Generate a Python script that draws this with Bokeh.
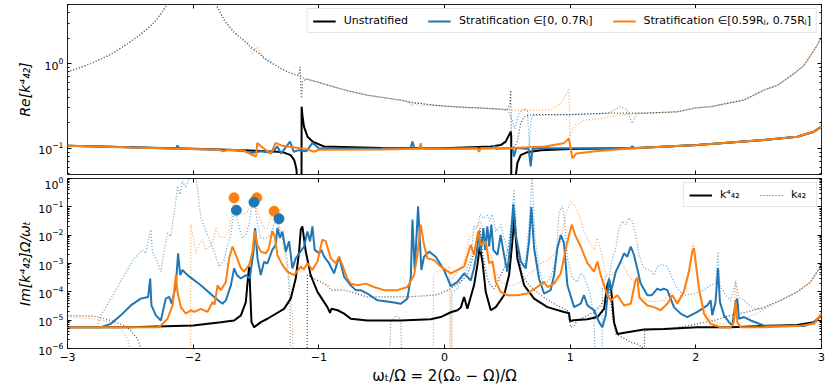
import numpy as np
from bokeh.plotting import figure
from bokeh.models import Range1d, LogAxis, LinearAxis, Legend, LegendItem, FixedTicker, CustomJSTickFormatter
from bokeh.layouts import column
from bokeh.embed import file_html
from bokeh.resources import INLINE

FONT = "DejaVu Sans"
BLUE = "#1f77b4"
ORANGE = "#ff7f0e"
BLACK = "#000000"

# ---------------- top panel: Re[k42^4] (solid) and Re[k42] (dotted), linear values ----------------
re_unstrat = [(-3.0,0.107),(-2.5,0.103),(-2.0,0.099),(-1.6,0.095),(-1.409,0.092),(-1.33,0.091),(-1.277,0.089),
    (-1.224,0.083),(-1.197,0.073),(-1.185,0.063),(-1.178,0.056),(-1.172,0.04),(-1.17,1e-4),(-1.14,1e-4),
    (-1.137,0.31),(-1.13,0.24),(-1.118,0.18),(-1.09,0.137),(-1.05,0.12),(-0.959,0.105),(-0.5,0.101),(0.0,0.1),
    (0.368,0.105),(0.447,0.109),(0.487,0.12),(0.513,0.143),(0.527,0.157),(0.531,0.14),(0.533,1e-4),(0.566,1e-4),
    (0.569,0.05),(0.58,0.067),(0.606,0.083),(0.66,0.09),(0.766,0.095),(1.0,0.098),(1.48,0.1),(2.01,0.109),
    (2.54,0.125),(2.807,0.137),(2.94,0.157),(3.0,0.18)]
re_strat1 = [(-3.0,0.107),(-2.5,0.103),(-2.14,0.099),(-2.125,0.108),(-2.11,0.099),(-1.8,0.096),(-1.7,0.095),
    (-1.6,0.093),(-1.54,0.088),(-1.46,0.092),(-1.41,0.09),(-1.38,0.087),(-1.33,0.105),(-1.30,0.087),(-1.229,0.12),
    (-1.20,0.091),(-1.16,0.095),(-1.10,0.092),(-1.05,0.116),(-1.0,0.1),(-0.5,0.099),(-0.27,0.1),(-0.255,0.12),
    (-0.24,0.1),(0.0,0.099),(0.38,0.1),(0.394,0.108),(0.41,0.099),(0.50,0.1),(0.54,0.1),(0.553,0.08),(0.57,0.1),
    (0.60,0.1),(0.67,0.098),(0.686,0.061),(0.70,0.098),(0.75,0.1),(1.0,0.1),(1.48,0.101),(1.495,0.106),(1.51,0.1),
    (2.01,0.109),(2.54,0.125),(2.807,0.137),(2.94,0.157),(3.0,0.18)]
re_strat2 = [(-3.0,0.107),(-2.5,0.102),(-2.0,0.098),(-1.8,0.096),(-1.76,0.092),(-1.72,0.096),(-1.6,0.094),
    (-1.56,0.088),(-1.50,0.08),(-1.49,0.115),(-1.42,0.095),(-1.383,0.087),(-1.343,0.116),(-1.30,0.108),(-1.25,0.105),
    (-1.10,0.098),(-1.04,0.091),(-1.0,0.096),(-0.5,0.097),(-0.2,0.099),(-0.19,0.115),(-0.18,0.1),(0.0,0.099),
    (0.26,0.1),(0.274,0.091),(0.29,0.1),(0.5,0.1),(0.8,0.105),(0.95,0.115),(0.99,0.131),(1.018,0.076),(1.05,0.087),
    (1.2,0.092),(1.5,0.1),(2.01,0.109),(2.54,0.125),(2.807,0.137),(2.94,0.157),(3.0,0.18)]

re_k_unstrat = [(-3.0,0.80),(-2.9,0.90),(-2.788,1.04),(-2.65,1.30),(-2.523,1.72),(-2.44,2.10),(-2.364,2.58),
    (-2.30,3.20),(-2.258,3.87),(-2.204,5.08),(-2.10,12.0),(-1.90,12.0),(-1.82,5.08),(-1.75,3.20),(-1.675,2.35),
    (-1.60,1.90),(-1.542,1.57),(-1.47,1.30),(-1.409,1.09),(-1.34,0.95),(-1.277,0.834),(-1.20,0.75),(-1.16,0.73),
    (-1.149,0.91),(-1.143,0.50),(-1.138,0.39),(-1.13,0.62),(-1.10,0.66),(-1.0,0.60),(-0.879,0.53),(-0.75,0.47),
    (-0.613,0.424),(-0.45,0.39),(-0.349,0.37),(-0.245,0.345),(-0.10,0.325),(0.0,0.315),(0.15,0.305),(0.262,0.30),
    (0.40,0.293),(0.50,0.285),(0.52,0.33),(0.527,0.485),(0.533,0.105),(0.56,0.105),(0.58,0.12),(0.606,0.197),
    (0.633,0.236),(0.70,0.25),(1.0,0.25),(1.32,0.26),(1.60,0.26),(1.85,0.27),(2.0,0.30),(2.12,0.31),(2.25,0.34),
    (2.38,0.37),(2.54,0.485),(2.65,0.556),(2.78,0.76),(2.86,0.95),(2.913,1.25),(2.96,1.6),(3.0,2.06)]
re_k_strat1 = [(-3.0,0.80),(-2.9,0.90),(-2.788,1.04),(-2.65,1.30),(-2.523,1.72),(-2.44,2.10),(-2.364,2.58),
    (-2.30,3.20),(-2.258,3.87),(-2.204,5.08),(-2.10,12.0),(-1.90,12.0),(-1.82,5.08),(-1.75,3.20),(-1.675,2.35),
    (-1.60,1.90),(-1.542,1.57),(-1.47,1.30),(-1.409,1.09),(-1.34,0.95),(-1.277,0.834),(-1.20,0.75),(-1.10,0.66),
    (-1.0,0.60),(-0.879,0.53),(-0.75,0.47),(-0.613,0.424),(-0.45,0.39),(-0.30,0.36),(-0.255,0.32),(-0.23,0.345),
    (-0.10,0.325),(0.0,0.315),(0.15,0.305),(0.262,0.30),(0.40,0.293),(0.50,0.285),(0.54,0.215),(0.559,0.17),
    (0.593,0.258),(0.633,0.295),(0.66,0.28),(0.675,0.105),(0.686,0.2),(0.70,0.246),(1.0,0.25),(1.30,0.26),
    (1.40,0.31),(1.45,0.29),(1.495,0.197),(1.53,0.26),(1.60,0.26),(1.85,0.27),(2.0,0.30),(2.12,0.31),(2.25,0.34),
    (2.38,0.37),(2.54,0.485),(2.65,0.556),(2.78,0.76),(2.86,0.95),(2.913,1.25),(2.96,1.6),(3.0,2.06)]
re_k_strat2 = [(-3.0,0.80),(-2.9,0.90),(-2.788,1.04),(-2.65,1.30),(-2.523,1.72),(-2.44,2.10),(-2.364,2.58),
    (-2.30,3.20),(-2.258,3.87),(-2.204,5.08),(-2.10,12.0),(-1.90,12.0),(-1.82,5.08),(-1.75,3.20),(-1.675,2.35),
    (-1.60,1.90),(-1.56,1.75),(-1.528,1.31),(-1.49,1.57),(-1.436,1.14),(-1.40,1.12),(-1.34,0.95),(-1.277,0.834),
    (-1.20,0.75),(-1.10,0.66),(-1.0,0.60),(-0.879,0.53),(-0.75,0.47),(-0.613,0.424),(-0.45,0.39),(-0.349,0.37),
    (-0.245,0.345),(-0.19,0.315),(-0.10,0.325),(0.0,0.315),(0.15,0.305),(0.262,0.30),(0.40,0.293),(0.50,0.285),
    (0.60,0.28),(0.85,0.285),(0.925,0.34),(0.964,0.42),(0.99,0.51),(0.998,0.137),(1.018,0.165),(1.044,0.188),
    (1.11,0.215),(1.243,0.225),(1.376,0.246),(1.60,0.26),(1.85,0.27),(2.0,0.30),(2.12,0.31),(2.25,0.34),
    (2.38,0.37),(2.54,0.485),(2.65,0.556),(2.78,0.76),(2.86,0.95),(2.913,1.25),(2.96,1.6),(3.0,2.06)]

# ---------------- bottom panel: Im[...] read as decade exponents (log10 of the value) ----------------
im_unstrat_exp = [(-3.0,-5.25),(-2.5,-5.25),(-2.0,-5.19),(-1.78,-5.07),(-1.674,-5.01),(-1.62,-4.83),(-1.581,-4.36),
    (-1.562,-3.41),(-1.554,-3.11),(-1.536,-5.07),(-1.515,-5.25),(-1.461,-5.07),(-1.409,-4.95),(-1.277,-4.6),
    (-1.224,-4.24),(-1.184,-3.53),(-1.157,-2.58),(-1.144,-1.81),(-1.131,-1.69),(-1.104,-2.58),(-1.065,-3.41),
    (-1.011,-4.0),(-0.932,-4.54),(-0.911,-4.74),(-0.90,-4.6),(-0.85,-4.65),(-0.799,-4.77),(-0.746,-4.95),
    (-0.614,-5.01),(-0.348,-5.01),(-0.11,-4.97),(-0.03,-4.89),(0.05,-4.72),(0.103,-4.65),(0.13,-4.55),(0.156,-4.18),
    (0.182,-4.6),(0.235,-3.77),(0.262,-3.05),(0.280,-2.4),(0.302,-2.93),(0.328,-4.0),(0.368,-4.65),(0.408,-4.54),
    (0.474,-4.12),(0.514,-3.41),(0.540,-2.22),(0.555,-1.4),(0.580,-2.82),(0.633,-3.76),(0.713,-4.24),(0.819,-4.54),
    (0.951,-4.71),(0.991,-4.75),(0.999,-5.03),(1.03,-5.0),(1.137,-4.97),(1.217,-4.89),(1.27,-4.6),(1.296,-3.76),
    (1.31,-3.59),(1.328,-4.0),(1.349,-5.07),(1.376,-5.49),(1.455,-5.43),(1.587,-5.33),(1.746,-5.31),(2.011,-5.25),
    (2.277,-5.25),(2.542,-5.21),(2.807,-5.17),(2.94,-5.07),(3.0,-4.83)]
im_strat1_exp = [(-3.0,-5.25),(-2.735,-5.25),(-2.655,-5.13),(-2.576,-4.83),(-2.496,-4.48),(-2.417,-4.24),
    (-2.358,-4.18),(-2.342,-3.53),(-2.332,-4.48),(-2.297,-4.83),(-2.257,-5.01),(-2.218,-4.24),(-2.191,-4.18),
    (-2.17,-4.42),(-2.138,-3.77),(-2.12,-2.64),(-2.103,-3.41),(-2.085,-3.23),(-2.045,-3.41),(-1.939,-3.77),
    (-1.833,-4.18),(-1.767,-4.42),(-1.74,-4.3),(-1.70,-3.77),(-1.674,-3.17),(-1.652,-3.41),(-1.62,-3.53),
    (-1.581,-3.41),(-1.55,-3.53),(-1.52,-2.58),(-1.507,-1.75),(-1.488,-2.82),(-1.462,-3.41),(-1.436,-2.94),
    (-1.41,-3.0),(-1.37,-2.52),(-1.343,-2.34),(-1.33,-1.75),(-1.309,-2.1),(-1.29,-1.87),(-1.263,-2.58),
    (-1.237,-2.22),(-1.21,-3.17),(-1.184,-2.82),(-1.117,-2.4),(-1.091,-1.87),(-1.07,-2.22),(-1.051,-1.69),
    (-1.033,-2.52),(-0.998,-2.64),(-0.98,-2.52),(-0.958,-2.76),(-0.919,-2.99),(-0.879,-3.35),(-0.839,-2.76),
    (-0.799,-3.47),(-0.746,-3.77),(-0.706,-3.94),(-0.667,-3.94),(-0.614,-4.06),(-0.534,-4.3),(-0.428,-4.36),
    (-0.348,-4.42),(-0.295,-4.24),(-0.268,-3.47),(-0.255,-1.45),(-0.237,-3.23),(-0.21,-0.98),(-0.184,-3.23),
    (-0.163,-2.76),(-0.123,-2.58),(-0.07,-2.76),(-0.004,-3.23),(0.05,-3.8),(0.103,-3.65),(0.156,-3.35),
    (0.209,-3.6),(0.235,-3.17),(0.256,-2.64),(0.275,-1.87),(0.288,-2.58),(0.31,-1.75),(0.323,-2.52),(0.341,-1.69),
    (0.355,-2.4),(0.373,-1.63),(0.389,-2.52),(0.421,-2.7),(0.447,-1.99),(0.469,-2.58),(0.50,-3.29),(0.527,-2.22),
    (0.548,-0.9),(0.567,-1.99),(0.607,-2.93),(0.646,-3.17),(0.673,-2.22),(0.691,-1.0),(0.713,-2.46),(0.752,-3.53),
    (0.792,-4.06),(0.845,-3.94),(0.872,-3.41),(0.898,-2.46),(0.925,-1.99),(0.951,-2.28),(0.978,-3.77),(1.031,-4.54),
    (1.084,-4.42),(1.11,-4.12),(1.137,-4.48),(1.19,-4.65),(1.23,-5.07),(1.256,-5.25),(1.283,-4.83),(1.309,-3.53),
    (1.328,-3.94),(1.363,-3.29),(1.402,-2.93),(1.429,-2.64),(1.455,-2.76),(1.482,-2.4),(1.508,-2.7),(1.535,-3.2),
    (1.56,-3.7),(1.614,-4.12),(1.65,-4.12),(1.693,-3.89),(1.72,-3.94),(1.745,-3.89),(1.773,-3.94),(1.826,-4.54),
    (1.879,-4.77),(1.932,-4.89),(2.012,-4.71),(2.091,-4.48),(2.118,-4.3),(2.131,-4.83),(2.157,-4.36),(2.176,-3.17),
    (2.192,-4.36),(2.224,-4.83),(2.264,-5.07),(2.29,-5.19),(2.317,-4.36),(2.33,-4.24),(2.343,-4.95),(2.383,-4.89),
    (2.436,-5.01),(2.542,-5.19),(2.675,-5.21),(2.86,-5.21),(2.953,-5.07),(3.0,-4.77)]
im_strat2_exp = [(-3.0,-5.25),(-2.284,-5.25),(-2.257,-5.19),(-2.204,-4.95),(-2.164,-4.48),(-2.138,-3.41),
    (-2.125,-4.0),(-2.098,-4.54),(-2.058,-4.77),(-2.019,-4.65),(-1.992,-4.71),(-1.939,-4.6),(-1.886,-4.71),
    (-1.846,-4.36),(-1.83,-4.45),(-1.806,-3.77),(-1.78,-3.94),(-1.74,-3.65),(-1.714,-2.82),(-1.687,-2.4),
    (-1.66,-2.7),(-1.62,-3.17),(-1.594,-3.29),(-1.554,-3.05),(-1.528,-2.58),(-1.51,-1.85),(-1.489,-2.34),
    (-1.462,-2.58),(-1.423,-2.64),(-1.40,-2.5),(-1.37,-1.85),(-1.351,-2.04),(-1.33,-2.7),(-1.29,-3.05),
    (-1.25,-3.29),(-1.197,-3.41),(-1.144,-3.11),(-1.12,-3.2),(-1.091,-2.99),(-1.051,-3.23),(-1.011,-2.93),
    (-0.972,-2.16),(-0.945,-2.22),(-0.905,-2.82),(-0.865,-2.99),(-0.839,-2.76),(-0.813,-3.05),(-0.773,-3.53),
    (-0.746,-3.71),(-0.693,-3.77),(-0.627,-3.71),(-0.561,-3.83),(-0.481,-3.94),(-0.375,-3.94),(-0.295,-3.83),
    (-0.242,-3.41),(-0.216,-2.7),(-0.189,-1.63),(-0.163,-2.34),(-0.136,-2.82),(-0.083,-2.88),(-0.03,-3.11),
    (0.05,-3.35),(0.103,-3.23),(0.156,-3.11),(0.209,-2.34),(0.235,-2.7),(0.267,-1.87),(0.288,-2.34),(0.328,-2.22),
    (0.355,-2.99),(0.381,-2.93),(0.408,-3.65),(0.447,-4.0),(0.50,-4.12),(0.58,-4.12),(0.66,-4.06),(0.739,-3.83),
    (0.792,-3.65),(0.82,-3.83),(0.872,-3.71),(0.925,-3.35),(0.978,-2.22),(1.012,-1.63),(1.044,-2.04),(1.084,-2.4),
    (1.137,-2.99),(1.19,-3.29),(1.217,-2.93),(1.243,-3.41),(1.296,-4.12),(1.323,-4.3),(1.376,-4.12),(1.429,-4.48),
    (1.482,-4.42),(1.52,-3.6),(1.535,-3.5),(1.55,-4.2),(1.614,-4.48),(1.667,-4.54),(1.72,-4.65),(1.773,-4.42),
    (1.813,-4.12),(1.852,-4.42),(1.905,-4.0),(1.945,-3.29),(1.972,-2.58),(1.985,-2.46),(1.998,-2.93),(2.025,-3.89),
    (2.065,-4.77),(2.118,-5.13),(2.197,-5.25),(2.277,-5.25),(2.303,-5.07),(2.317,-4.36),(2.33,-5.07),(2.356,-5.25),
    (2.542,-5.25),(2.807,-5.21),(2.94,-5.13),(3.0,-4.77)]

im_k_unstrat_exp = [(-3.0,-4.84),(-2.788,-4.86),(-2.655,-5.01),(-2.549,-5.19),(-2.496,-5.37),(-2.443,-5.66),
    (-2.417,-6.02),(-2.41,-9),(-1.095,-9),(-1.091,-3.41),(-1.011,-3.59),(-0.932,-3.77),(-0.905,-3.94),(-0.80,-3.94),
    (-0.746,-4.0),(-0.614,-4.18),(-0.30,-4.18),(-0.083,-4.12),(-0.03,-4.06),(0.05,-3.89),(0.129,-3.65),(0.182,-3.41),
    (0.222,-2.82),(0.262,-1.99),(0.283,-1.75),(0.302,-2.58),(0.328,-3.29),(0.355,-3.71),(0.394,-3.89),(0.434,-3.53),
    (0.474,-3.17),(0.514,-2.22),(0.54,-1.27),(0.559,-1.16),(0.58,-2.58),(0.62,-3.41),(0.673,-3.77),(0.766,-4.12),
    (0.872,-4.42),(0.951,-4.6),(0.978,-4.65),(1.004,-5.25),(1.03,-5.2),(1.058,-5.01),(1.111,-4.89),(1.19,-4.71),
    (1.243,-4.48),(1.283,-4.12),(1.309,-3.77),(1.336,-4.83),(1.363,-5.49),(1.416,-5.61),(1.482,-5.78),(1.534,-5.84),
    (1.574,-5.95),(1.585,-9),(1.59,-9),(1.592,-5.37),(1.64,-5.33),(1.80,-5.3),(2.012,-5.13),(2.144,-5.01),
    (2.277,-4.83),(2.41,-4.71),(2.542,-4.54),(2.675,-4.3),(2.807,-4.0),(2.913,-3.65),(3.0,-3.05)]
im_k_strat1_exp = [(-3.0,-5.25),(-2.765,-5.25),(-2.735,-4.83),(-2.655,-4.24),(-2.549,-3.41),(-2.47,-2.82),
    (-2.403,-2.52),(-2.377,-2.64),(-2.35,-2.04),(-2.337,-1.81),(-2.324,-2.6),(-2.284,-2.93),(-2.257,-3.29),
    (-2.218,-2.22),(-2.204,-1.93),(-2.178,-2.04),(-2.138,-0.8),(-2.125,-0.27),(-2.104,-0.56),(-2.085,-0.09),
    (-2.058,-0.33),(-2.032,0.05),(-2.0,0.3),(-1.98,0.05),(-1.966,-0.33),(-1.939,-1.39),(-1.886,-1.99),
    (-1.833,-2.58),(-1.793,-3.11),(-1.753,-2.88),(-1.727,-2.34),(-1.70,-1.99),(-1.674,-1.04),(-1.66,-1.2),
    (-1.634,-1.75),(-1.607,-2.1),(-1.58,-1.99),(-1.554,-1.6),(-1.528,-0.74),(-1.509,-0.9),(-1.488,-1.63),
    (-1.462,-2.1),(-1.41,-2.1),(-1.383,-1.99),(-1.356,-1.6),(-1.33,-1.51),(-1.303,-1.99),(-1.277,-2.22),
    (-1.25,-2.93),(-1.229,-4.6),(-1.225,-9),(-0.455,-9),(-0.428,-5.07),(-0.388,-4.83),(-0.348,-4.95),(-0.328,-9),
    (0.055,-9),(0.06,-4.0),(0.103,-3.89),(0.156,-3.41),(0.209,-2.82),(0.235,-1.69),(0.262,-1.75),(0.283,-1.27),
    (0.31,-1.4),(0.341,-1.3),(0.36,-1.5),(0.381,-1.27),(0.408,-1.87),(0.447,-1.63),(0.487,-2.34),(0.514,-2.7),
    (0.54,-1.04),(0.553,-0.38),(0.575,-2.22),(0.607,-3.17),(0.646,-2.93),(0.673,-1.63),(0.686,-0.74),(0.695,0.1),
    (0.705,-0.6),(0.718,-1.99),(0.752,-3.17),(0.792,-3.77),(0.845,-3.53),(0.885,-2.82),(0.912,-1.16),(0.938,-0.98),
    (0.957,-1.51),(0.978,-2.82),(1.018,-3.53),(1.058,-3.65),(1.084,-3.35),(1.11,-3.45),(1.15,-3.94),(1.19,-4.83),
    (1.211,-9),(1.253,-9),(1.256,-3.89),(1.283,-3.41),(1.31,-3.5),(1.336,-2.82),(1.363,-2.46),(1.389,-1.75),
    (1.416,-1.51),(1.442,-1.63),(1.469,-1.39),(1.495,-1.51),(1.522,-1.99),(1.547,-2.7),(1.587,-3.17),(1.64,-3.25),
    (1.667,-3.41),(1.693,-3.11),(1.733,-3.03),(1.773,-3.11),(1.813,-3.53),(1.852,-3.89),(1.905,-4.12),(1.985,-4.06),
    (2.065,-3.94),(2.118,-3.77),(2.157,-3.7),(2.176,-2.58),(2.192,-3.77),(2.237,-4.12),(2.277,-4.3),(2.317,-3.65),
    (2.343,-4.2),(2.383,-4.3),(2.462,-4.6),(2.542,-4.6),(2.675,-4.3),(2.807,-4.0),(2.913,-3.65),(3.0,-3.05)]
im_k_strat2_exp = [(-3.0,-4.89),(-2.788,-4.95),(-2.655,-5.07),(-2.576,-5.31),(-2.523,-5.66),(-2.49,-6.2),
    (-2.485,-9),(-2.021,-9),(-2.019,-1.63),(-1.992,-2.22),(-1.979,-2.64),(-1.952,-2.34),(-1.926,-2.16),
    (-1.899,-2.52),(-1.87,-2.4),(-1.846,-2.3),(-1.82,-1.75),(-1.793,-2.04),(-1.753,-2.1),(-1.714,-1.87),
    (-1.687,-1.04),(-1.674,-0.74),(-1.647,-1.16),(-1.607,-1.27),(-1.568,-1.16),(-1.528,-0.74),(-1.515,-0.62),
    (-1.489,-1.16),(-1.462,-1.51),(-1.436,-1.75),(-1.41,-1.75),(-1.383,-1.39),(-1.356,-1.04),(-1.34,-1.16),
    (-1.317,-1.63),(-1.29,-2.1),(-1.263,-2.93),(-1.237,-3.41),(-1.21,-4.83),(-1.20,-9),(-0.09,-9),(-0.088,-3.41),
    (-0.057,-3.29),(-0.004,-3.2),(0.04,-3.1),(0.044,-9),(0.05,-9),(0.052,-3.53),(0.063,-3.53),(0.103,-3.29),
    (0.156,-2.93),(0.196,-2.1),(0.222,-1.99),(0.262,-1.63),(0.288,-1.51),(0.328,-2.22),(0.368,-2.7),(0.408,-3.29),
    (0.447,-3.65),(0.50,-3.77),(0.55,-3.77),(0.607,-3.65),(0.66,-3.41),(0.713,-3.23),(0.766,-2.99),(0.819,-2.88),
    (0.872,-2.7),(0.925,-2.22),(0.965,-1.27),(1.004,-0.8),(1.031,-0.92),(1.071,-1.27),(1.111,-1.87),(1.15,-2.22),
    (1.19,-2.52),(1.217,-2.1),(1.243,-2.52),(1.283,-3.35),(1.323,-3.41),(1.363,-3.3),(1.402,-2.88),(1.442,-3.23),
    (1.482,-3.53),(1.535,-3.77),(1.56,-4.18),(1.614,-4.3),(1.667,-4.35),(1.746,-4.3),(1.799,-4.0),(1.852,-4.35),
    (1.905,-3.89),(1.945,-3.17),(1.98,-2.28),(1.998,-2.8),(2.025,-3.77),(2.065,-4.6),(2.118,-5.01),(2.197,-5.13),
    (2.277,-5.07),(2.303,-4.83),(2.317,-3.59),(2.33,-4.83),(2.37,-4.95),(2.489,-4.77),(2.595,-4.45),(2.675,-4.3),
    (2.807,-4.0),(2.913,-3.65),(3.0,-3.05)]

marker_orange_x = [-1.675, -1.494, -1.356]
marker_orange_y = [0.208, 0.208, 0.070]
marker_blue_x = [-1.656, -1.516, -1.317]
marker_blue_y = [0.076, 0.146, 0.038]

x_ticks = [-3, -2, -1, 0, 1, 2, 3]
legend_top_labels = ["Unstratified", "Stratification \u2208[0, 0.7R\u2c7c]",
                     "Stratification \u2208[0.59R\u2c7c, 0.75R\u2c7c]"]
legend_bottom_labels = ["k\u2074\u2084\u2082", "k\u2084\u2082"]


def lin(pairs):
    xs, ys = zip(*pairs)
    return list(xs), list(ys)


def expo(pairs):
    xs, es = zip(*pairs)
    return list(xs), list(10.0 ** np.array(es))


def decades(lo, hi):
    major = [10.0 ** e for e in range(lo, hi + 1)]
    minor = [m * 10.0 ** e for e in range(lo - 1, hi + 1) for m in range(2, 10)]
    return major, minor


def style_axis(ax, labels):
    ax.axis_line_color = None
    ax.major_tick_in = 4
    ax.major_tick_out = 0
    ax.minor_tick_in = 2
    ax.minor_tick_out = 0
    ax.major_tick_line_color = "black"
    ax.minor_tick_line_color = "black"
    ax.major_label_text_font = FONT
    ax.major_label_text_color = "black"
    ax.axis_label_text_font = FONT
    ax.axis_label_text_color = "black"
    if labels:
        ax.major_label_text_font_size = "11px"
        ax.major_label_standoff = 4
    else:
        ax.formatter = CustomJSTickFormatter(code="return '';")
        ax.major_label_text_font_size = "1px"
        ax.major_label_standoff = 0


def make_fig(yrange, fh, btop, bbot, ylo, yhi, ylabel, xlabels, xlabel):
    p = figure(frame_width=754, frame_height=fh, x_range=Range1d(-3, 3), y_range=Range1d(*yrange),
               y_axis_type="log", output_backend="svg", toolbar_location=None,
               min_border_left=67, min_border_right=5, min_border_top=btop, min_border_bottom=bbot)
    p.grid.visible = False
    p.outline_line_color = "#222222"
    p.outline_line_width = 1
    p.background_fill_color = "white"
    p.border_fill_color = "white"
    major, minor = decades(ylo, yhi)
    p.yaxis.ticker = FixedTicker(ticks=major, minor_ticks=minor)
    p.xaxis.ticker = FixedTicker(ticks=x_ticks, minor_ticks=[])
    style_axis(p.yaxis[0], True)
    p.yaxis.axis_label = ylabel
    p.yaxis.axis_label_text_font_size = "14px"
    p.yaxis.axis_label_text_font_style = "italic"
    p.yaxis.axis_label_standoff = 2
    style_axis(p.xaxis[0], xlabels)
    if xlabel:
        p.xaxis.axis_label = xlabel
        p.xaxis.axis_label_text_font_size = "15px"
        p.xaxis.axis_label_text_font_style = "normal"
        p.xaxis.axis_label_standoff = 3
    ra = LogAxis(ticker=FixedTicker(ticks=major, minor_ticks=minor))
    style_axis(ra, False)
    p.add_layout(ra, "right")
    ta = LinearAxis(ticker=FixedTicker(ticks=x_ticks, minor_ticks=[]))
    style_axis(ta, False)
    p.add_layout(ta, "above")
    return p


def style_legend(lg):
    lg.orientation = "horizontal"
    lg.location = "top_right"
    lg.label_text_font = FONT
    lg.label_text_font_size = "11px"
    lg.label_text_color = "black"
    lg.glyph_width = 23
    lg.glyph_height = 12
    lg.label_standoff = 8
    lg.spacing = 20
    lg.padding = 5
    lg.margin = 4
    lg.border_line_color = "#cccccc"
    lg.border_line_width = 1
    lg.background_fill_alpha = 0.85


DOT = dict(line_width=1.2, line_dash="1 2", line_alpha=0.7)
SOL = dict(line_width=2.0)

# ---------------- top panel ----------------
top = make_fig((0.049, 5.0), 170, 4, 2, -1, 0, "Re[k\u2074\u2084\u2082]", False, None)
for data, col in [(re_k_unstrat, BLACK), (re_k_strat1, BLUE), (re_k_strat2, ORANGE)]:
    x, y = lin(data)
    top.line(x, y, line_color=col, **DOT)
r_tops = []
for data, col in [(re_unstrat, BLACK), (re_strat1, BLUE), (re_strat2, ORANGE)]:
    x, y = lin(data)
    r_tops.append(top.line(x, y, line_color=col, **SOL))
lg_top = Legend(items=[LegendItem(label=l, renderers=[r]) for l, r in zip(legend_top_labels, r_tops)])
style_legend(lg_top)
top.add_layout(lg_top)

# ---------------- bottom panel ----------------
bot = make_fig((1e-6, 1.0), 170, 2, 0, -6, 0, "Im[k\u2074\u2084\u2082]\u03a9/\u03c9\u209c", True,
               "\u03c9\u209c/\u03a9 = 2(\u03a9\u2092 \u2212 \u03a9)/\u03a9")
dots = []
for data, col in [(im_k_unstrat_exp, BLACK), (im_k_strat1_exp, BLUE), (im_k_strat2_exp, ORANGE)]:
    x, y = expo(data)
    dots.append(bot.line(x, y, line_color=col, **DOT))
sols = []
for data, col in [(im_unstrat_exp, BLACK), (im_strat1_exp, BLUE), (im_strat2_exp, ORANGE)]:
    x, y = expo(data)
    sols.append(bot.line(x, y, line_color=col, **SOL))
bot.scatter(marker_orange_x, marker_orange_y, size=10, fill_color=ORANGE, line_color=ORANGE)
bot.scatter(marker_blue_x, marker_blue_y, size=10, fill_color=BLUE, line_color=BLUE)
lg_bot = Legend(items=[LegendItem(label=legend_bottom_labels[0], renderers=[sols[0]]),
                       LegendItem(label=legend_bottom_labels[1], renderers=[dots[0]])])
style_legend(lg_bot)
bot.add_layout(lg_bot)

layout = column(top, bot, spacing=0)
open("out.html", "w").write(file_html(layout, INLINE))
